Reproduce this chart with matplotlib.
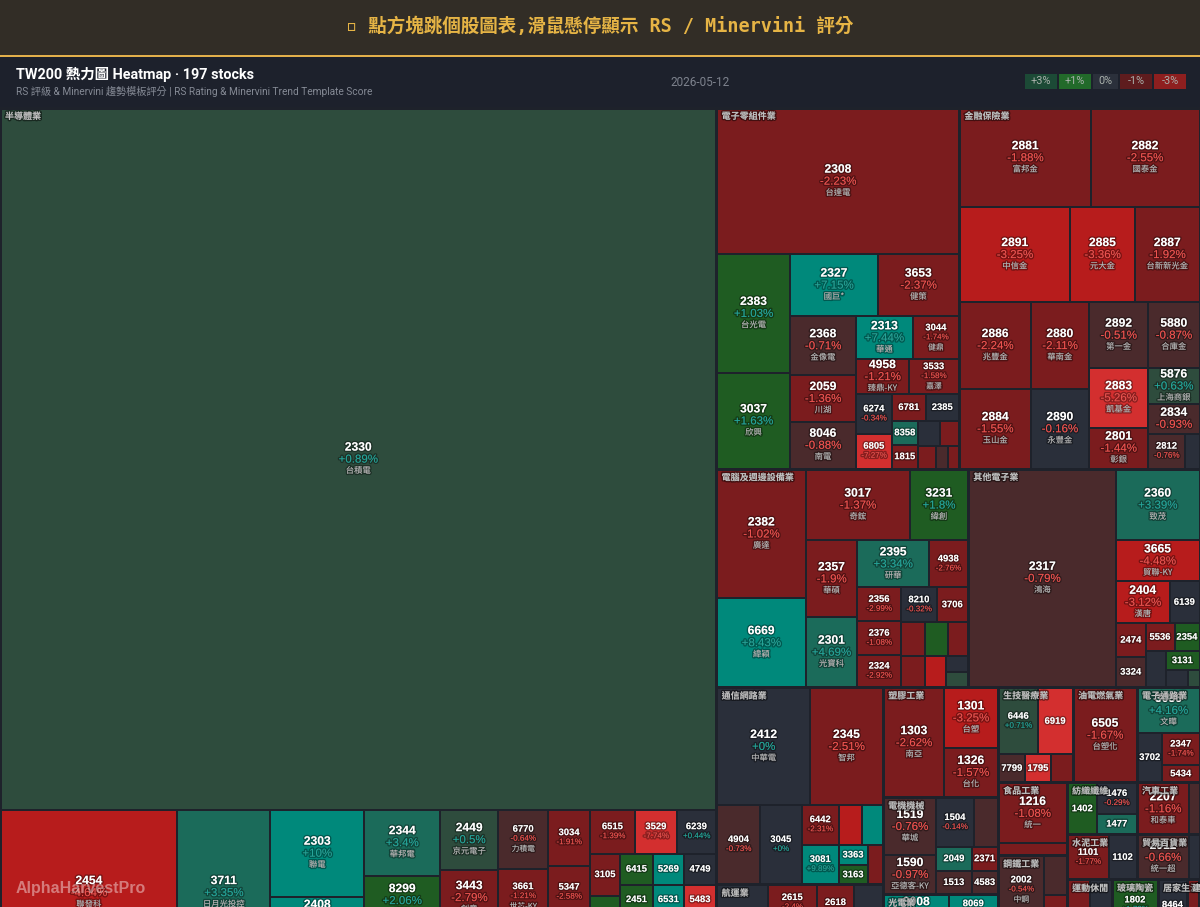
# -*- coding: utf-8 -*-
import matplotlib
matplotlib.use("Agg")
import matplotlib.pyplot as plt
import matplotlib.patheffects as pe
from matplotlib.patches import Rectangle

plt.rcParams["font.family"] = ["Liberation Sans", "Noto Sans CJK TC", "DejaVu Sans"]

# ---------------- data ----------------
codes = [
    # 半導體業
    "2330", "2454", "3711", "2303", "2408", "6147", "2344", "8299", "3260", "2449", "3443", "6223",
    "6770", "3661", "2379", "3034", "5347", "5274", "6515", "3529", "6239", "3105", "6488", "3264",
    "6415", "5269", "4749", "2451", "6531", "5483", "6271", "2458", "8016", "6643", "6182", "8028",
    # 電子零組件業
    "2308", "2383", "3037", "2327", "3653", "2368", "2059", "8046", "2313", "3044", "4958", "3533",
    "6274", "6805", "6781", "2385", "8358", "1815", "2492", "3023", "6213", "2456", "3376",
    # 金融保險業
    "2881", "2882", "2891", "2885", "2887", "2886", "2884", "2880", "2890", "2892", "5880", "2883",
    "2801", "5876", "2834", "2812", "2889",
    # 電腦及週邊設備業
    "2382", "6669", "3017", "3231", "2357", "2301", "2395", "4938", "2356", "2376", "2324", "8210",
    "3706", "2377", "3005", "2353", "2362", "6414", "2352", "2365",
    # 其他電子業
    "2317", "2360", "3665", "2404", "6139", "2474", "3324", "5536", "2354", "6196", "3131", "3030", "2355",
    # 通信網路業
    "2412", "2345", "4904", "3045", "6442", "2314", "4979", "3081", "3363", "3163", "5388",
    # 航運業
    "2603", "2615", "2618", "2609", "2610", "2646", "2637",
    # 塑膠工業 / 電機機械 / 光電業
    "1303", "1301", "1326",
    "1519", "1590", "1504", "1503", "2049", "2371", "1513", "4583",
    "3008", "8069", "3481", "2409", "6176",
    # 生技 / 油電 / 電子通路
    "6446", "6919", "7799", "1795", "4743",
    "6505",
    "3036", "3702", "2347", "5434",
    # 食品 / 鋼鐵 / 化學
    "1216", "1227",
    "2002", "2027", "2014",
    "1722", "1717",
    # 紡織 / 汽車 / 水泥 / 貿易
    "1402", "1476", "1477",
    "2207", "2201",
    "1101", "1102",
    "2912", "2915",
    # 運動 / 玻璃 / 居家 / 建材 / 觀光 / 其他
    "9904", "9910", "1802", "8464", "2542", "2707", "9945",
]

names = [
    "台積電", "聯發科", "日月光投控", "聯電", "南亞科", "頎邦", "華邦電", "群聯", "威剛", "京元電子", "創意", "旺矽",
    "力積電", "世芯-KY", "瑞昱", "聯詠", "世界", "信驊", "穎崴", "力旺", "力成", "穩懋", "環球晶", "欣銓",
    "矽力*-KY", "祥碩", "新應材", "創見", "愛普*", "中美晶", "同欣電", "義隆", "矽創", "M31", "合晶", "昇陽半導體",
    "台達電", "台光電", "欣興", "國巨*", "健策", "金像電", "川湖", "南電", "華通", "健鼎", "臻鼎-KY", "嘉澤",
    "台燿", "富世達", "AES-KY", "群光", "金居", "富喬", "華新科", "信邦", "聯茂", "奇力新", "新日興",
    "富邦金", "國泰金", "中信金", "元大金", "台新新光金", "兆豐金", "玉山金", "華南金", "永豐金", "第一金", "合庫金", "凱基金",
    "彰銀", "上海商銀", "臺企銀", "台中銀", "國票金",
    "廣達", "緯穎", "奇鋐", "緯創", "華碩", "光寶科", "研華", "和碩", "英業達", "技嘉", "仁寶", "勤誠",
    "神達", "微星", "神基", "宏碁", "藍天", "樺漢", "佳世達", "昆盈",
    "鴻海", "致茂", "貿聯-KY", "漢唐", "亞翔", "可成", "雙鴻", "聖暉*", "鴻準", "帆宣", "弘塑", "德律", "敬鵬",
    "中華電", "智邦", "遠傳", "台灣大", "光聖", "台揚", "華星光", "聯亞", "上詮", "波若威", "中磊",
    "長榮", "萬海", "長榮航", "陽明", "華航", "星宇航空", "慧洋-KY",
    "南亞", "台塑", "台化",
    "華城", "亞德客-KY", "東元", "士電", "上銀", "大同", "中興電", "台灣精銳",
    "大立光", "元太", "群創", "友達", "瑞儀",
    "藥華藥", "康霈*", "禾榮科", "美時", "合一",
    "台塑化",
    "文曄", "大聯大", "聯強", "崇越",
    "統一", "佳格",
    "中鋼", "大成鋼", "中鴻",
    "台肥", "長興",
    "遠東新", "儒鴻", "聚陽",
    "和泰車", "裕隆",
    "台泥", "亞泥",
    "統一超", "潤泰全",
    "寶成", "豐泰", "台玻", "億豐", "興富發", "晶華", "潤泰新",
]

changes = [
    0.89, -4.64, 3.35, 10.0, 6.2, -1.2, 3.4, 2.06, 1.4, 0.5, -2.79, -1.6,
    -0.64, -1.21, -0.8, -1.91, -2.58, -2.1, -1.39, -7.74, 0.44, -1.6, 1.5, -0.9,
    1.3, 5.6, 0.2, 1.2, 5.3, -5.4, -0.6, -1.1, 0.3, -2.0, 2.2, -1.5,
    -2.23, 1.03, 1.63, 7.15, -2.37, -0.71, -1.36, -0.88, 7.44, -1.74, -1.21, -1.58,
    -0.34, -7.27, -1.6, -0.1, 3.8, -2.0, 0.2, -1.4, -1.8, -0.7, -2.2,
    -1.88, -2.55, -3.25, -3.36, -1.92, -2.24, -1.55, -2.11, -0.16, -0.51, -0.87, -5.26,
    -1.44, 0.63, -0.93, -0.76, -0.2,
    -1.02, 8.43, -1.37, 1.8, -1.9, 4.69, 3.34, -2.76, -2.99, -1.08, -2.92, -0.32,
    -1.5, -1.3, 1.6, -1.2, -1.7, -3.8, -0.2, 0.7,
    -0.79, 3.39, -4.48, -3.12, 0.1, -1.4, -0.6, -1.8, 1.4, -0.3, 2.1, -0.2, 0.8,
    0.0, -2.51, -0.73, 0.0, -2.31, -3.6, 6.5, 9.89, 5.8, 2.2, -1.3,
    0.1, -2.4, -1.5, -0.2, -1.1, -0.6, 0.3,
    -2.62, -3.25, -1.57,
    -0.76, -0.97, -0.14, -0.7, 3.6, -1.4, -0.8, -0.6,
    6.3, 5.5, -0.4, -0.8, 1.2,
    0.71, -6.5, -0.6, -5.2, -1.5,
    -1.67,
    4.16, -0.1, -1.74, -1.2,
    -1.08, -1.3,
    -0.54, -0.8, -1.6,
    -0.7, -1.2,
    1.5, -0.29, 3.8,
    -1.16, -0.7,
    -1.77, -0.2,
    -0.66, -0.3,
    -1.3, -0.2, 1.72, -0.1, -1.5, -0.5, 0.6,
]

# relative market weight of each stock
weights = [
    502632, 29382, 15438, 8178, 3760, 3666, 5016, 3800, 3800, 3480, 3248, 2900,
    2950, 2800, 2550, 2352, 2226, 2394, 1980, 1848, 1716, 1260, 1200, 1200,
    1023, 961, 992, 990, 930, 960, 1023, 961, 992, 990, 930, 960,
    35332, 8760, 7008, 5544, 5103, 3894, 3102, 3102, 2451, 1978, 1855, 1750,
    1440, 1260, 918, 891, 624, 624, 550, 475, 414, 276, 253,
    12936, 10780, 10545, 6270, 6175, 6160, 5670, 5104, 4698, 3904, 3392, 3538,
    2440, 1855, 1537, 1300, 502,
    11481, 7921, 7455, 4118, 4004, 3640, 3384, 1833, 1496, 1496, 1408, 1260,
    1085, 816, 782, 680, 745, 650, 352, 330,
    32264, 5964, 3444, 2268, 1260, 1020, 900, 812, 700, 720, 646, 374, 204,
    10998, 8541, 3440, 3360, 1480, 920, 840, 1480, 609, 551, 600,
    4641, 2250, 1665, 1900, 2300, 1702, 739,
    6710, 3240, 2700,
    3021, 2120, 1862, 1176, 864, 624, 864, 624,
    2442, 1813, 1980, 1760, 1320,
    2680, 2345, 756, 728, 616,
    6080,
    2835, 1250, 1254, 646,
    4209, 828,
    3128, 897, 667,
    2000, 1588,
    1560, 1240, 840,
    2704, 572,
    1890, 1260,
    2340, 495,
    1150, 1100, 2300, 1450, 650, 2760, 3358,
]

# order of rows (T = row on top, L = column on the left) for the sectors
sector_tiling = ("L: 半導體業 / T: 電子零組件業, 金融保險業 / T: 電腦及週邊設備業, 其他電子業 / "
                 "L: 通信網路業, 航運業 / L: 塑膠工業, 電機機械, 光電業 / "
                 "T: 生技醫療業, 油電燃氣業, 電子通路業 / L: 食品工業, 鋼鐵工業, 化學工業 / "
                 "T: 紡織纖維, 汽車工業 / T: 水泥工業, 貿易百貨業 / "
                 "T: 運動休閒, 玻璃陶瓷, 居家生活, 建材營造 / T: 觀光餐旅, 其他業")

stock_tiling = {
    "半導體業": "T: 2330 / L: 2454 / L: 3711 / L: 2303 2408 6147 / L: 2344 8299 3260 / L: 2449 3443 6223 / "
              "L: 6770 3661 2379 / L: 3034 5347 5274 / T: 6515 3529 6239 / L: 3105 6488 3264 / "
              "T: 6415 5269 4749 / T: 2451 6531 5483 / T: 6271 2458 8016 / T: 6643 6182 8028",
    "電子零組件業": "T: 2308 / L: 2383 3037 / T: 2327 3653 / L: 2368 2059 8046 / T: 2313 3044 / T: 4958 3533 / "
                "L: 6274 6805 / T: 6781 2385 / L: 8358 1815 / T: 2492 3023 / T: 6213 2456 3376",
    "金融保險業": "T: 2881 2882 / T: 2891 2885 2887 / L: 2886 2884 / L: 2880 2890 / T: 2892 5880 / "
               "L: 2883 2801 / T: 5876 / T: 2834 / T: 2812 2889",
    "電腦及週邊設備業": "L: 2382 6669 / T: 3017 3231 / L: 2357 2301 / T: 2395 4938 / L: 2356 2376 2324 / "
                  "T: 8210 3706 / T: 2377 3005 2353 / L: 2362 / L: 6414 / L: 2352 2365",
    "其他電子業": "L: 2317 / T: 2360 / T: 3665 / T: 2404 6139 / L: 2474 3324 / T: 5536 2354 / L: 6196 / "
               "T: 3131 / T: 3030 2355",
    "通信網路業": "T: 2412 2345 / L: 4904 / L: 3045 / T: 6442 2314 4979 / L: 3081 / L: 3363 3163 / L: 5388",
    "航運業": "L: 2603 / L: 2615 2610 / L: 2618 2646 / L: 2609 2637",
    "塑膠工業": "L: 1303 / T: 1301 / T: 1326",
    "電機機械": "L: 1519 1590 / T: 1504 1503 / T: 2049 2371 / T: 1513 4583",
    "光電業": "T: 3008 8069 / T: 3481 2409 6176",
    "生技醫療業": "T: 6446 6919 / T: 7799 1795 4743",
    "油電燃氣業": "T: 6505",
    "電子通路業": "T: 3036 / L: 3702 / T: 2347 / T: 5434",
    "食品工業": "T: 1216 / T: 1227",
    "鋼鐵工業": "L: 2002 / L: 2027 2014",
    "化學工業": "L: 1722 / L: 1717",
    "紡織纖維": "L: 1402 / T: 1476 / T: 1477",
    "汽車工業": "L: 2207 / L: 2201",
    "水泥工業": "L: 1101 / L: 1102",
    "貿易百貨業": "L: 2912 / L: 2915",
    "運動休閒": "L: 9904 / L: 9910",
    "玻璃陶瓷": "T: 1802",
    "居家生活": "T: 8464",
    "建材營造": "T: 2542",
    "觀光餐旅": "T: 2707",
    "其他業": "T: 9945",
}

legend_labels = ["+3%", "+1%", "0%", "-1%", "-3%"]
legend_colors = ["#1c4a36", "#226a2a", "#2b303b", "#5e1c1e", "#8e1f1f"]


# ---------------- helpers ----------------
def parse(spec):
    rows = []
    for part in spec.split("/"):
        o, items = part.split(":")
        rows.append((o.strip(), items.replace(",", " ").split()))
    return rows


def tile(rows, val, x0, y0, x1, y1):
    rest = sum(val[k] for _, ks in rows for k in ks)
    out = {}
    for o, ks in rows:
        s = sum(val[k] for k in ks)
        if o == "T":
            h = (y1 - y0) * s / rest
            x = x0
            for k in ks:
                w = (x1 - x0) * val[k] / s
                out[k] = (x, y0, x + w, y0 + h)
                x += w
            y0 += h
        else:
            w = (x1 - x0) * s / rest
            y = y0
            for k in ks:
                hh = (y1 - y0) * val[k] / s
                out[k] = (x0, y, x0 + w, y + hh)
                y += hh
            x0 += w
        rest -= s
    return out


def cell_color(p):
    if p >= 5:
        return "#00897b"
    if p >= 3:
        return "#1b6b5a"
    if p >= 1:
        return "#1f5c22"
    if p >= 0.5:
        return "#2e4c3d"
    if p > -0.5:
        return "#2a2f3a"
    if p > -1:
        return "#4a2a2c"
    if p > -3:
        return "#7b1c1e"
    if p > -5:
        return "#b71c1c"
    return "#d32f2f"


def fmt_pct(p):
    s = f"{p:.2f}".rstrip("0").rstrip(".")
    return ("+" if p >= 0 else "") + s + "%"


stock_w = dict(zip(codes, weights))
stock_name = dict(zip(codes, names))
stock_chg = dict(zip(codes, changes))
sector_rows = {s: parse(t) for s, t in stock_tiling.items()}
sector_w = {s: sum(stock_w[c] for _, cs in rows for c in cs) for s, rows in sector_rows.items()}

# ---------------- figure ----------------
fig = plt.figure(figsize=(12, 9.07), dpi=100)
fig.patch.set_facecolor("#1e222b")
ax = fig.add_axes([0, 0, 1, 1])
ax.set_xlim(0, 1200)
ax.set_ylim(907, 0)
ax.axis("off")

# header bands
ax.add_patch(Rectangle((0, 0), 1200, 55, color="#322d26", lw=0))
ax.add_patch(Rectangle((0, 55), 1200, 2, color="#e3b04b", lw=0))
ax.add_patch(Rectangle((0, 57), 1200, 50, color="#1d212c", lw=0))
ax.add_patch(Rectangle((0, 107), 1200, 800, color="#1e222b", lw=0))

ax.text(600, 26, "▫ 點方塊跳個股圖表,滑鼠懸停顯示 RS / Minervini 評分", color="#e6b445",
        fontsize=13.35, fontweight="bold", ha="center", va="center",
        family=["DejaVu Sans Mono", "Noto Sans CJK TC"])
ax.text(16, 74, "TW200 熱力圖 Heatmap · 197 stocks", color="white", fontsize=10.4,
        fontweight="bold", ha="left", va="center", family=["Roboto", "Noto Sans CJK TC"])
ax.text(16, 91, "RS 評級 & Minervini 趨勢模板評分 | RS Rating & Minervini Trend Template Score",
        color="#858a95", fontsize=7.33, ha="left", va="center", family=["Roboto", "Noto Sans CJK TC"])
ax.text(700, 82, "2026-05-12", color="#7d828d", fontsize=8.5, ha="center", va="center",
        family=["Roboto", "DejaVu Sans"])

# legend chips
lx = 1025
for lab, col in zip(legend_labels, legend_colors):
    w = 7 * len(lab) + 11
    ax.add_patch(Rectangle((lx, 74), w, 15, color=col, lw=0))
    ax.text(lx + w / 2, 81.5, lab, color="#a9b0ab", fontsize=7.8, ha="center", va="center",
            family=["Roboto", "DejaVu Sans"])
    lx += w + 2

# treemap
sec_rects = tile(parse(sector_tiling), sector_w, 0, 108, 1200, 976)
shadow = [pe.withStroke(linewidth=2, foreground=(0, 0, 0, 0.35))]
cells = []
for sec, (sx0, sy0, sx1, sy1) in sec_rects.items():
    leaf = tile(sector_rows[sec], stock_w, sx0 + 0.5, sy0 + 0.5, sx1 - 0.5, sy1 - 0.5)
    for c, (x0, y0, x1, y1) in leaf.items():
        x0, y0, x1, y1 = x0 + 1, y0 + 1, x1 - 1, y1 - 1
        ax.add_patch(Rectangle((x0, y0), x1 - x0, y1 - y0, color=cell_color(stock_chg[c]), lw=0))
        cells.append((c, x0, y0, x1, y1))

for key, x0, y0, x1, y1 in cells:
    w, h = x1 - x0, y1 - y0
    if w < 22.5 or h < 14:
        continue
    cx, cy = (x0 + x1) / 2, (y0 + y1) / 2
    p = stock_chg[key]
    show_pct = w >= 33 and h >= 26
    show_name = show_pct and w >= 43 and h >= 30
    big = show_pct and w >= 49
    if big:
        fc, fp, fn = 8.7, 8.3, 6.0
        offs = (-11.5, 0.5, 11.5) if show_name else (-6, 6, 0)
    else:
        fc, fp, fn = 6.8, 5.8, 5.6
        offs = (-10, 0, 10) if show_name else ((-5, 5, 0) if show_pct else (0, 0, 0))
    ax.text(cx, cy + offs[0], key, color="white", fontsize=fc, fontweight="bold",
            ha="center", va="center", path_effects=shadow)
    if show_pct:
        ax.text(cx, cy + offs[1], fmt_pct(p), color="#26a69a" if p >= 0 else "#ef5350",
                fontsize=fp, ha="center", va="center", path_effects=shadow)
    if show_name:
        ax.text(cx, cy + offs[2], stock_name[key], color="#b8b8b8", fontsize=fn,
                ha="center", va="center", family=["Noto Sans CJK TC", "DejaVu Sans"],
                path_effects=shadow)

for sec, (sx0, sy0, sx1, sy1) in sec_rects.items():
    ax.text(sx0 + 5, sy0 + 4, sec, color="#c0c0c0", fontsize=6.5, fontweight="bold",
            ha="left", va="top", family=["Noto Sans CJK TC", "DejaVu Sans"],
            path_effects=[pe.withStroke(linewidth=2, foreground=(0, 0, 0, 0.45))])

ax.text(16, 888, "AlphaHarvestPro", color=(1, 1, 1, 0.42), fontsize=11.5, fontweight="bold",
        ha="left", va="center")

fig.savefig("out.png", dpi=100, facecolor=fig.get_facecolor())
